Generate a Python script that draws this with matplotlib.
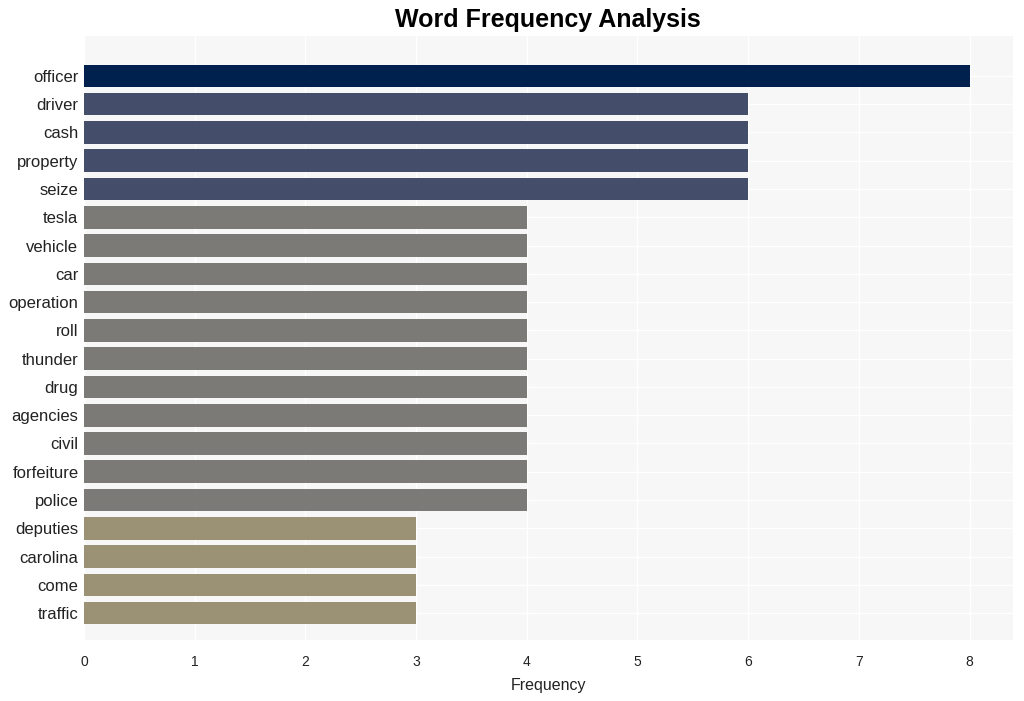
import matplotlib
matplotlib.use('Agg')
import matplotlib.pyplot as plt

plt.rcParams['font.family'] = ['Liberation Sans', 'DejaVu Sans']

# word counts
words = ['officer', 'driver', 'cash', 'property', 'seize', 'tesla', 'vehicle', 'car',
         'operation', 'roll', 'thunder', 'drug', 'agencies', 'civil', 'forfeiture',
         'police', 'deputies', 'carolina', 'come', 'traffic']
counts = [8, 6, 6, 6, 6, 4, 4, 4, 4, 4, 4, 4, 4, 4, 4, 4, 3, 3, 3, 3]

# colour by count level
level_colors = {8: '#00214e', 6: '#444e6b', 4: '#7b7a76', 3: '#9b9275'}
colors = [level_colors[c] for c in counts]

fig = plt.figure(figsize=(10.24, 7.01), dpi=100)
ax = fig.add_axes([0.082, 0.087, 0.907, 0.862])
ax.set_facecolor('#f7f7f7')

ypos = list(range(len(words)))
ax.barh(ypos, counts, height=0.8, color=colors, zorder=3)

ax.set_yticks(ypos)
ax.set_yticklabels(words, fontsize=12, color='#222222')
ax.set_ylim(19.95, -1.42)
ax.set_xlim(0, 8.39)
ax.set_xticks(range(0, 9))
ax.tick_params(axis='x', labelsize=10, colors='#222222', length=0, pad=11)
ax.tick_params(axis='y', length=0, pad=4)
ax.grid(True, color='white', linewidth=1, zorder=0)
for s in ax.spines.values():
    s.set_visible(False)

ax.set_xlabel('Frequency', fontsize=11.5, color='#222222', labelpad=6)
ax.set_title('Word Frequency Analysis', fontsize=18, fontweight='bold', pad=6)

fig.savefig('out.png', dpi=100, facecolor='white')
